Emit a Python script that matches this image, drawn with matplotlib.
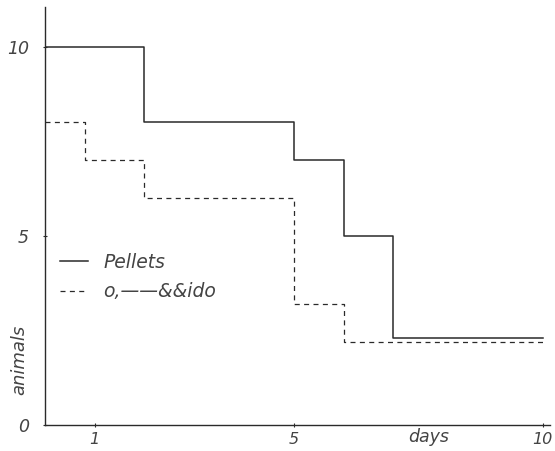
import matplotlib
matplotlib.use("Agg")
import matplotlib.pyplot as plt
from matplotlib.lines import Line2D

# data
pellets_days = [0, 2, 5, 6, 7, 10]
pellets_animals = [10, 8, 7, 5, 2.3, 2.3]
other_days = [0, 0.8, 2, 5, 6, 10]
other_animals = [8, 7, 6, 3.2, 2.2, 2.2]
xticks = [1, 5, 10]
xtick_labels = ["1", "5", "10"]
yticks = [0, 5, 10]
ytick_labels = ["0", "5", "10"]
series_labels = ["Pellets", "o,——&&ido"]

plt.rcParams['font.family'] = ['DejaVu Sans']
fig = plt.figure(figsize=(5.55, 4.51), dpi=100)
ax = fig.add_axes([0.081, 0.058, 0.91, 0.926])

col = '#2a2a2a'
l1, = ax.step(pellets_days, pellets_animals, where='post', color=col, lw=1.1)
l2, = ax.step(other_days, other_animals, where='post', color=col, lw=0.9,
              linestyle=(0, (4, 3.5)))

ax.set_xlim(0, 10.15)
ax.set_ylim(0, 11.05)
for s in ['top', 'right']:
    ax.spines[s].set_visible(False)
for s in ['left', 'bottom']:
    ax.spines[s].set_color(col)
    ax.spines[s].set_linewidth(1.0)

ax.set_xticks(xticks)
ax.set_xticklabels(xtick_labels, fontstyle='italic', fontsize=11.5, color='#444444')
ax.set_yticks(yticks)
ax.set_yticklabels(ytick_labels, fontstyle='italic', fontsize=12.5, color='#444444')
ax.tick_params(axis='both', direction='inout', length=3, width=0.8, color=col)
ax.tick_params(axis='y', pad=10)
ax.tick_params(axis='x', pad=4)

ax.text(-0.05, 0.156, "animals", transform=ax.transAxes, rotation=90,
        fontstyle='italic', fontsize=13, color='#444444', ha='center', va='center')
ax.text(0.76, -0.03, "days", transform=ax.transAxes,
        fontstyle='italic', fontsize=12.5, color='#444444', ha='center', va='center')

leg = ax.legend([l1, l2], series_labels, loc='center left',
                bbox_to_anchor=(0.03, 0.354), frameon=False,
                borderaxespad=0, borderpad=0,
                handlelength=1.5, handletextpad=0.8, labelspacing=0.55,
                prop={'style': 'italic', 'size': 13.5})
for t in leg.get_texts():
    t.set_color('#444444')

fig.savefig("out.png", dpi=100)
